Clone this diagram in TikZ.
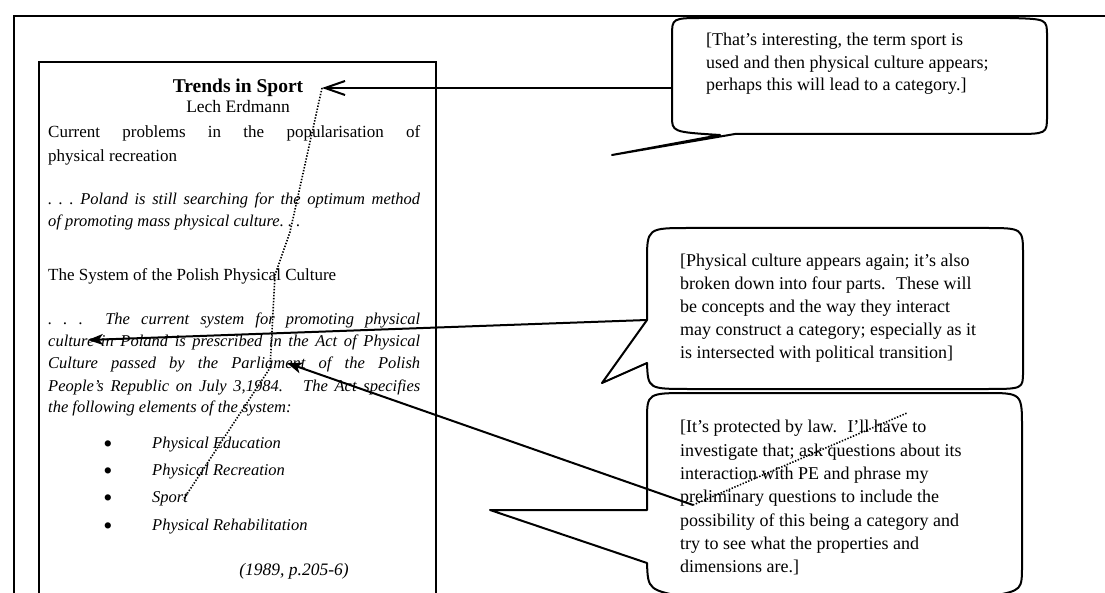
\documentclass[tikz,border=0pt]{standalone}
\usepackage{fontspec}
\setmainfont{Liberation Serif}
\usetikzlibrary{arrows.meta}

% justified line of fixed width
\newcommand\jline[1]{\makebox[372pt][s]{#1}}

\begin{document}
\begin{tikzpicture}[x=1pt,y=-1pt,
  rule/.style={line width=2pt},
  bubble/.style={line width=2pt, line join=round},
  txt/.style={anchor=base west, inner sep=0pt, font=\fontsize{17}{18}\selectfont},
  itxt/.style={anchor=base west, inner sep=0pt, font=\fontsize{16.5}{18}\selectfont\itshape},
  note/.style={anchor=base west, inner sep=0pt, font=\fontsize{18}{18}\selectfont},
  pointer/.style={line width=2pt, -{Stealth[length=15pt,width=11pt,inset=4pt]}},
  barb/.style={line width=2pt, -{Straight Barb[length=20pt,width=14pt,line width=2pt]}},
  trace/.style={line width=1.6pt, dash pattern=on 1.4pt off 1.6pt},
  dot/.style={anchor=base, inner sep=0pt, font=\fontsize{26}{26}\selectfont}
]
\useasboundingbox (0,0) rectangle (1105,593);
\clip (0,0) rectangle (1105,593);

% page frame
\draw[rule] (14,620) -- (14,16) -- (1120,16);

% quoted source
\draw[rule] (39,620) -- (39,62) -- (436,62) -- (436,620);
\node[anchor=base, inner sep=0pt, font=\fontsize{19.5}{20}\selectfont\bfseries] (title) at (238,93) {Trends in Sport};
\node[anchor=base, inner sep=0pt, font=\fontsize{17.5}{18}\selectfont] (author) at (238,113) {Lech Erdmann};
\node[txt] (l1) at (48,138) {\jline{Current problems in the popularisation of}};
\node[txt] (l2) at (48,162) {physical recreation};
\node[itxt] (p1) at (48,205) {\jline{.\ .\ .\ Poland is still searching for the optimum method}};
\node[itxt] (p2) at (48,227) {of promoting mass physical culture.\ .\ .};
\node[txt] (sys) at (48,281) {The System of the Polish Physical Culture};
\node[itxt] (q1) at (48,325) {\jline{.\ .\ .\ \ The current system for promoting physical}};
\node[itxt] (q2) at (48,346) {\jline{culture in Poland is prescribed in the Act of Physical}};
\node[itxt] (q3) at (48,368) {\jline{Culture passed by the Parliament of the Polish}};
\node[itxt] (q4) at (48,391) {\jline{People's Republic on July 3,1984. \ The Act specifies}};
\node[itxt] (q5) at (48,412) {the following elements of the system:};
\node[dot] (d1) at (108,452) {\textbullet};
\node[dot] (d2) at (108,479) {\textbullet};
\node[dot] (d3) at (108,506) {\textbullet};
\node[dot] (d4) at (108,534) {\textbullet};
\node[itxt] (e1) at (152,448) {Physical Education};
\node[itxt] (e2) at (152,475) {Physical Recreation};
\node[itxt] (e3) at (152,502) {Sport};
\node[itxt] (e4) at (152,530) {Physical Rehabilitation};
\node[anchor=base, inner sep=0pt, font=\fontsize{17.5}{18}\selectfont\itshape] (cite) at (294,575) {(1989, p.205-6)};

% first comment
\draw[bubble] (735,134) -- (1012,134) .. controls (1047,134) .. (1047,116)
  -- (1047,36) .. controls (1047,19) .. (1010,18) -- (705,18)
  .. controls (672,18) .. (672,36) -- (672,116)
  .. controls (672,132) .. (720,135) -- (612,155) -- cycle;
\node[note] (c1a) at (706,46) {[That's interesting, the term sport is};
\node[note] (c1b) at (706,69) {used and then physical culture appears;};
\node[note] (c1c) at (706,91) {perhaps this will lead to a category.]};

% second comment
\draw[bubble] (647,320) -- (647,262) .. controls (647,228) .. (690,228)
  -- (985,228) .. controls (1023,228) .. (1023,255) -- (1023,372)
  .. controls (1023,389) .. (985,389) -- (690,389)
  .. controls (648,389) .. (647,363) -- (602,383) -- cycle;
\node[note] (c2a) at (680,267) {[Physical culture appears again; it's also};
\node[note] (c2b) at (680,290) {broken down into four parts. \ These will};
\node[note] (c2c) at (680,313) {be concepts and the way they interact};
\node[note] (c2d) at (680,336) {may construct a category; especially as it};
\node[note] (c2e) at (680,358) {is intersected with political transition]};

% third comment
\draw[bubble] (647,510) -- (647,421) .. controls (647,393) .. (690,393)
  -- (985,393) .. controls (1022,393) .. (1022,428) -- (1022,565)
  .. controls (1022,590) .. (993,596) -- (690,598)
  .. controls (648,590) .. (647,563) -- (490,510) -- cycle;
\node[note] (c3a) at (680,432) {[It's protected by law. \ I'll have to};
\node[note] (c3b) at (680,456) {investigate that; ask questions about its};
\node[note] (c3c) at (680,479) {interaction with PE and phrase my};
\node[note] (c3d) at (680,502) {preliminary questions to include the};
\node[note] (c3e) at (680,526) {possibility of this being a category and};
\node[note] (c3f) at (680,549) {try to see what the properties and};
\node[note] (c3g) at (680,572) {dimensions are.]};

% anchor points of the links
\coordinate (b1out) at (672,88);
\coordinate (sportmark) at (322,88);
\coordinate (b2out) at (647,320);
\coordinate (culturemark) at (88,340);
\coordinate (hub) at (693,505);
\coordinate (parlmark) at (287,363);
\coordinate (havemark) at (907,413);
\coordinate (sportitem) at (183,500);

% links
\draw[barb] (b1out) -- (sportmark);
\draw[pointer] (b2out) -- (culturemark);
\draw[pointer] (hub) -- (parlmark);
\draw[trace] (sportmark) -- (290,232) -- (275,275) -- (270,368) -- (sportitem);
\draw[trace] (hub) -- (havemark);
\end{tikzpicture}
\end{document}
